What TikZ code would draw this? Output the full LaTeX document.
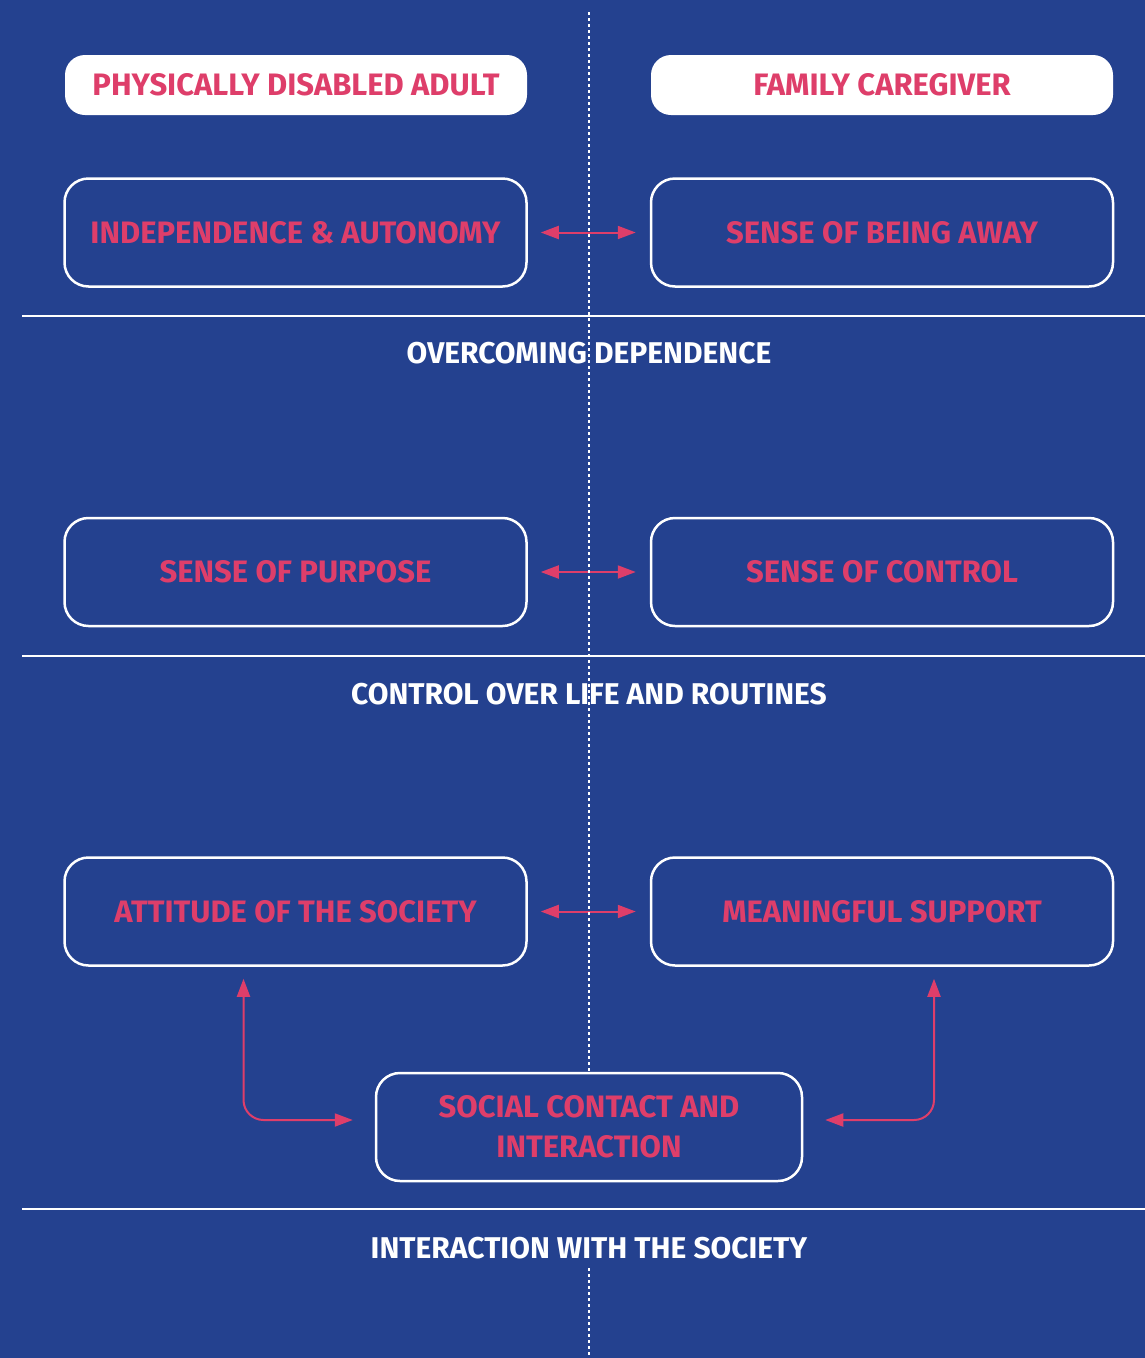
\documentclass[tikz,border=0pt]{standalone}
\usepackage{fontspec}
\setmainfont{Fira Sans}
\usetikzlibrary{arrows.meta,calc}
\definecolor{bg}{RGB}{36,65,143}
\definecolor{rose}{RGB}{222,62,106}

\begin{document}
\begin{tikzpicture}[x=1pt,y=-1pt,
  pinktext/.style={text=rose, font=\bfseries\fontsize{31}{40}\selectfont},
  whitetext/.style={text=white, font=\bfseries\fontsize{30}{34}\selectfont},
  head/.style={pinktext, fill=white, rounded corners=20pt, minimum width=462pt, minimum height=60pt, inner sep=0pt},
  theme/.style={pinktext, draw=white, line width=2.5pt, rounded corners=24pt, minimum width=462pt, minimum height=108pt, inner sep=0pt, align=center},
  section/.style={whitetext, inner sep=0pt},
  link/.style={rose, line width=2pt, {Triangle[length=18pt,width=13pt]}-{Triangle[length=18pt,width=13pt]}},
  rule/.style={white, line width=2.5pt},
  divider/.style={white, line width=2.8pt, dash pattern=on 2.8pt off 3.2pt}
]
% canvas
\fill[bg] (0,0) rectangle (1145,1358);
\useasboundingbox (0,0) rectangle (1145,1358);

% column headers
\node[head] (headL) at (296,85) {PHYSICALLY DISABLED ADULT};
\node[head] (headR) at (882,85) {FAMILY CAREGIVER};

% overcoming dependence
\node[theme] (indep) at (295.5,232.5) {INDEPENDENCE \& AUTONOMY};
\node[theme] (away) at (882,232.5) {SENSE OF BEING AWAY};
\draw[link, shorten <=13pt, shorten >=14pt] (indep.east) -- (away.west);
\draw[rule] (22,316) -- (1145,316);
\node[section] (sec1) at (589,353) {OVERCOMING DEPENDENCE};

% control over life and routines
\node[theme] (purpose) at (295.5,572) {SENSE OF PURPOSE};
\node[theme] (control) at (882,572) {SENSE OF CONTROL};
\draw[link, shorten <=13pt, shorten >=14pt] (purpose.east) -- (control.west);
\draw[rule] (22,656) -- (1145,656);
\node[section] (sec2) at (589,694) {CONTROL OVER LIFE AND ROUTINES};

% interaction with the society
\node[theme] (attitude) at (295.5,911.5) {ATTITUDE OF THE SOCIETY};
\node[theme] (support) at (882,911.5) {MEANINGFUL SUPPORT};
\draw[link, shorten <=13pt, shorten >=14pt] (attitude.east) -- (support.west);
\node[theme, minimum width=426pt] (social) at (589,1127) {SOCIAL CONTACT AND\\INTERACTION};
\draw[link, rounded corners=20pt]
  ([xshift=-52pt,yshift=-12pt]attitude.south) |- ([xshift=-22pt,yshift=7pt]social.west);
\draw[link, rounded corners=20pt]
  ([xshift=52pt,yshift=-12pt]support.south) |- ([xshift=22pt,yshift=7pt]social.east);
\draw[rule] (22,1209) -- (1145,1209);
\node[section] (sec3) at (589,1248) {INTERACTION WITH THE SOCIETY};

% centre divider between the two perspectives
\coordinate (divtop) at (589,12);
\coordinate (divlow) at (589,1268);
\coordinate (divend) at (589,1358);
\draw[divider] (divtop) -- (social.north);
\draw[divider] (divlow) -- (divend);
\end{tikzpicture}
\end{document}
